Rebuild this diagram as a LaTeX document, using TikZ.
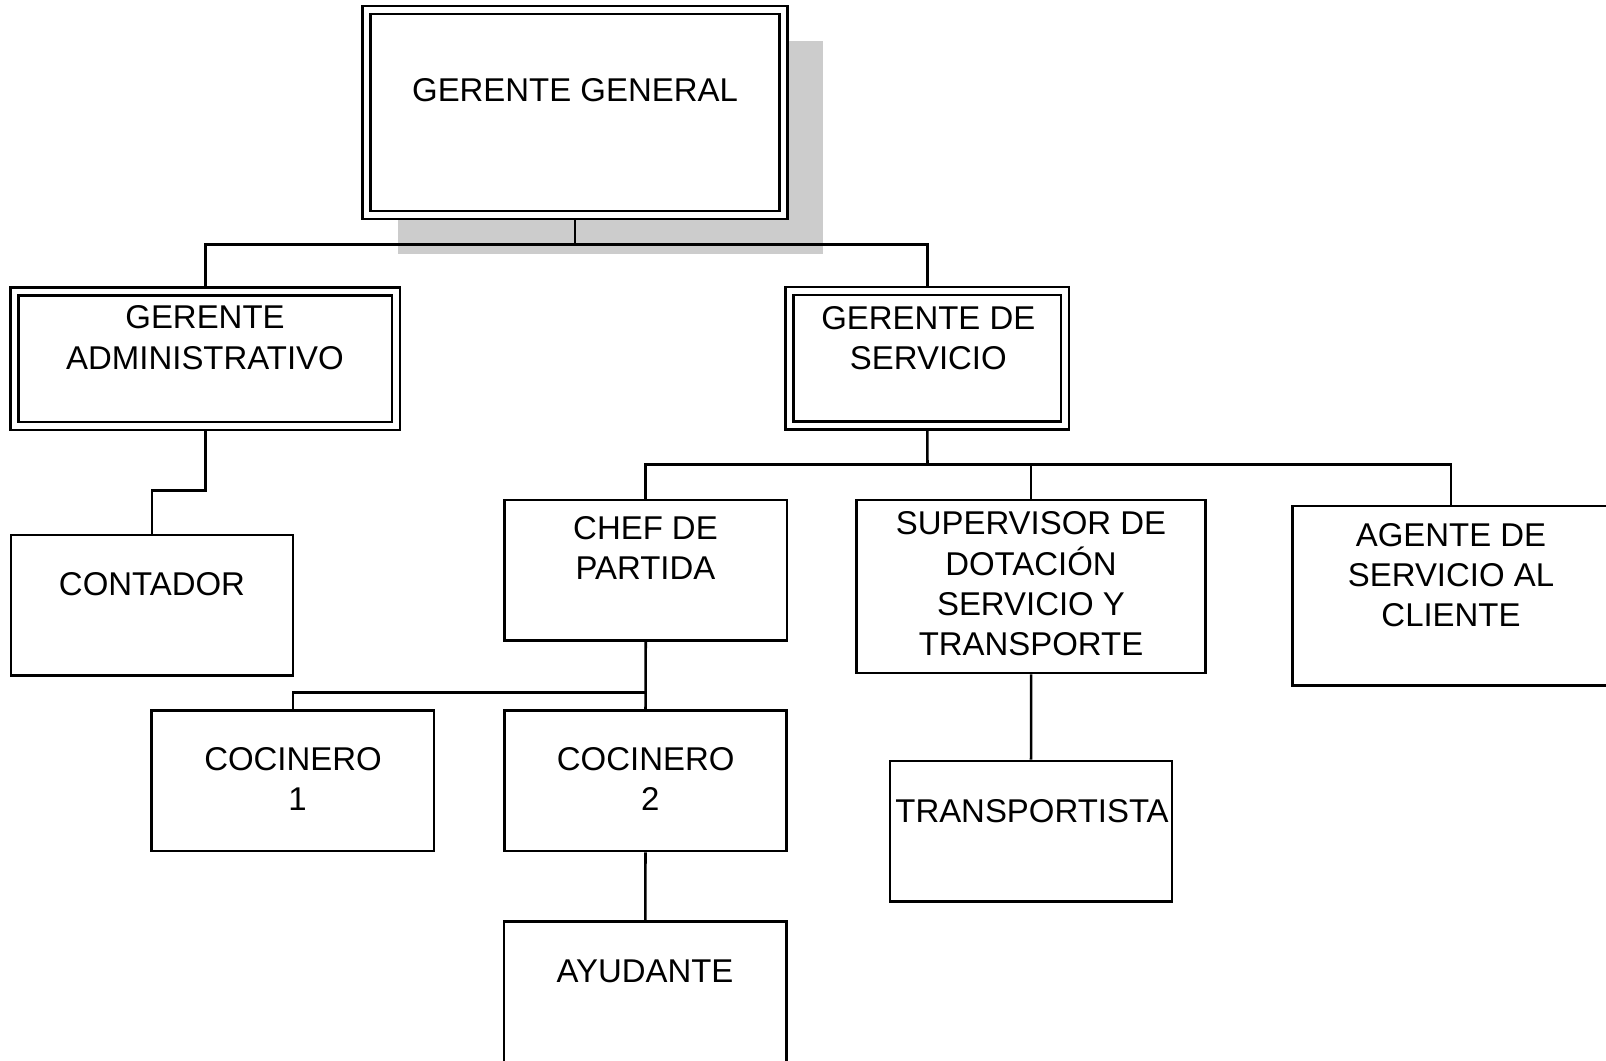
\documentclass[tikz,border=0pt]{standalone}
\usepackage{fontspec}
\setmainfont{Liberation Sans}
\usetikzlibrary{fit,backgrounds}
\definecolor{shadowgray}{RGB}{204,204,204}
\begin{document}
\begin{tikzpicture}[x=0.75pt,y=-0.75pt,
  rule/.style={line width=1.9pt, draw=black},
  post/.style={rule, fill=white, rectangle, inner sep=0pt},
  headpost/.style={post, double, double distance=3.8pt},
  title/.style={font=\fontsize{24.7}{30.2}\selectfont, align=center, inner sep=0pt, anchor=base},
  link/.style={rule}
]
\useasboundingbox (0,0) rectangle (1606,1060);

% boxes of the chart
\node[headpost, fit={(366.5,10) (783.5,215)}] (gg) {};
\node[headpost, fit={(14.5,291.5) (396,426)}] (ga) {};
\node[headpost, fit={(789.5,291) (1065,425.5)}] (gs) {};
\node[post, fit={(11,535) (293,675.5)}] (cont) {};
\node[post, fit={(504.5,500) (787,640.3)}] (chef) {};
\node[post, fit={(856.7,500) (1205.7,673)}] (sup) {};
\node[post, fit={(1292.3,506) (1610,685.5)}] (agente) {};
\node[post, fit={(151.6,710.5) (434,851)}] (c1) {};
\node[post, fit={(504.3,710.5) (786.7,851)}] (c2) {};
\node[post, fit={(890,761) (1172,901.7)}] (trans) {};
\node[post, fit={(504,921.7) (786.7,1080)}] (ayud) {};

% labels (anchored at the baseline of their last line)
\node[title] (gg-t) at (575,101.5) {GERENTE GENERAL};
\node[title] (ga-t) at (205,369) {GERENTE\\ADMINISTRATIVO};
\node[title] (gs-t) at (928.3,369.3) {GERENTE DE\\SERVICIO};
\node[title] (cont-t) at (152,595) {CONTADOR};
\node[title] (chef-t) at (645.5,579.5) {CHEF DE\\PARTIDA};
\node[title] (sup-t) at (1031,655.7) {SUPERVISOR DE\\DOTACIÓN\\SERVICIO Y\\TRANSPORTE};
\node[title] (agente-t) at (1451,626.7) {AGENTE DE\\SERVICIO AL\\CLIENTE};
\node[title] (c1-t) at (293,810.7) {COCINERO\\\ 1};
\node[title] (c2-t) at (645.7,810.7) {COCINERO\\\ 2};
\node[title] (trans-t) at (1032,822.3) {TRANSPORTISTA};
\node[title] (ayud-t) at (645,982.3) {AYUDANTE};

% bus points of the connectors
\coordinate (bus1) at (575,244.3);
\coordinate (bus2) at (927.5,464.3);
\coordinate (bus3) at (645.5,692.3);
\coordinate (knee) at (152,490.3);

\begin{scope}[on background layer]
  \fill[white] (0,0) rectangle (1606,1060);
  % shadow under the top box
  \fill[shadowgray] (397.7,40.7) rectangle (823,254.3);
  % connectors
  \draw[link] (gg.south) -- (bus1);
  \draw[link] (ga.north) |- (bus1) -| (gs.north);
  \draw[link] (ga.south) |- (knee) -- (cont.north);
  \draw[link] (gs.south) -- (bus2);
  \draw[link] (chef.north) |- (bus2) -| (agente.north);
  \draw[link] (sup.north) -- (sup.north |- bus2);
  \draw[link] (chef.south) -- (c2.north);
  \draw[link] (c1.north) |- (bus3);
  \draw[link] (sup.south) -- (trans.north);
  \draw[link] (c2.south) -- (ayud.north);
\end{scope}
\end{tikzpicture}
\end{document}
